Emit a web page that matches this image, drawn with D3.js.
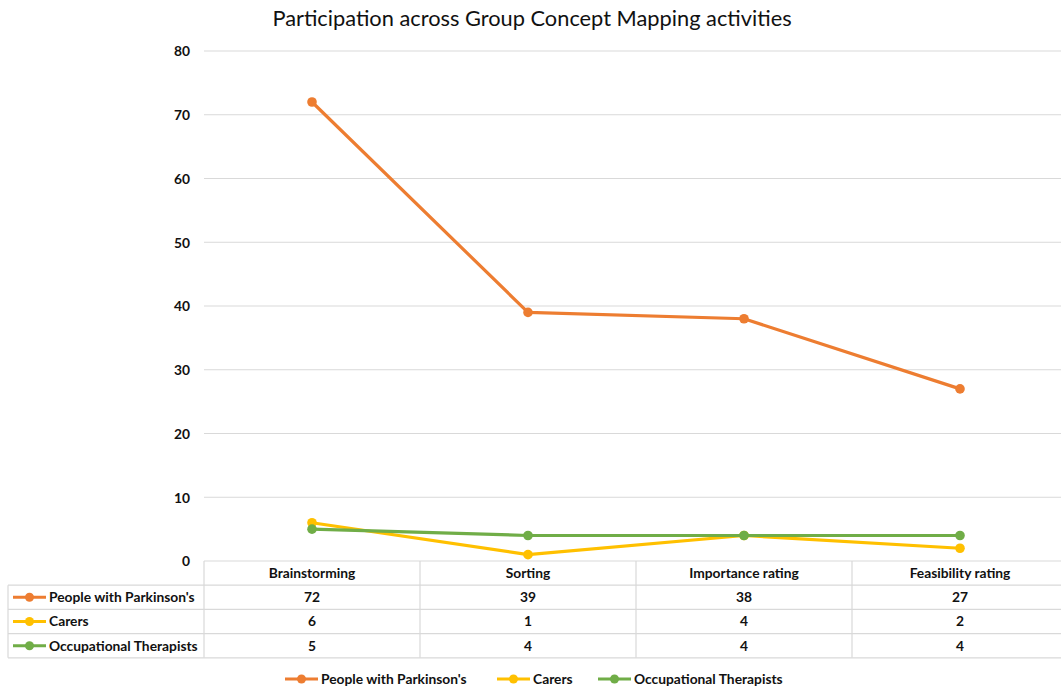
<!DOCTYPE html>
<html><head><meta charset="utf-8">
<script src="https://cdn.jsdelivr.net/npm/d3@7"></script>
<style>body{margin:0;background:#fff;font-family:Lato,"Open Sans",sans-serif;}</style>
</head><body>
<svg id="c" width="1061" height="690"></svg>
<script>
const categories = ["Brainstorming","Sorting","Importance rating","Feasibility rating"];
const seriesNames = ["People with Parkinson's","Carers","Occupational Therapists"];
const parkinsons = [72,39,38,27];
const carers = [6,1,4,2];
const ots = [5,4,4,4];
const yTicks = [0,10,20,30,40,50,60,70,80];
const colors = ["#ED7D31","#FFC000","#70AD47"];
const seriesValues = [parkinsons, carers, ots];

const svg = d3.select("#c");
const plotLeft = 204, bandW = 216, plotTop = 51, plotBottom = 561;
const fs = 13.8;
const x = d3.scaleBand().domain(categories).range([plotLeft, plotLeft + bandW*categories.length]).padding(0);
const y = d3.scaleLinear().domain([0,80]).range([plotBottom, plotTop]);

svg.append("text").attr("x",532).attr("y",26).attr("text-anchor","middle")
  .attr("font-size",21.8).attr("fill","#111").text("Participation across Group Concept Mapping activities");

svg.append("g").selectAll("line").data(yTicks.filter(d=>d>0)).join("line")
  .attr("x1",plotLeft).attr("x2",1061).attr("y1",d=>y(d)).attr("y2",d=>y(d))
  .attr("stroke","#d9d9d9").attr("stroke-width",1);

const yAxis = d3.axisLeft(y).tickValues(yTicks).tickSize(0).tickPadding(0);
const ya = svg.append("g").attr("transform",`translate(190,0)`).call(yAxis);
ya.select(".domain").remove();
ya.selectAll("text").attr("font-size",fs).attr("font-weight","bold").attr("fill","#111").attr("font-family","Lato,sans-serif").attr("dy","0.35em");

const rowH = 24.2;
const tTop = plotBottom, tLeft = 8;
const g = svg.append("g").attr("stroke","#d9d9d9").attr("stroke-width",1.2).attr("fill","none");
g.append("line").attr("x1",plotLeft).attr("x2",1061).attr("y1",tTop).attr("y2",tTop);
for(let i=1;i<=4;i++){
  g.append("line").attr("x1",tLeft).attr("x2",1061).attr("y1",tTop+i*rowH).attr("y2",tTop+i*rowH);
}
g.append("line").attr("x1",tLeft).attr("x2",tLeft).attr("y1",tTop+rowH).attr("y2",tTop+4*rowH);
categories.forEach(c=>{
  g.append("line").attr("x1",x(c)).attr("x2",x(c)).attr("y1",tTop).attr("y2",tTop+4*rowH);
});
svg.append("g").selectAll("text").data(categories).join("text")
  .attr("x",d=>x(d)+x.bandwidth()/2).attr("y",tTop+rowH/2).attr("dy","0.35em")
  .attr("text-anchor","middle").attr("font-size",fs).attr("font-weight","bold").attr("fill","#111").text(d=>d);
seriesNames.forEach((name,i)=>{
  const cy = tTop + rowH*(i+1) + rowH/2;
  svg.append("line").attr("x1",13).attr("x2",46).attr("y1",cy).attr("y2",cy).attr("stroke",colors[i]).attr("stroke-width",3);
  svg.append("circle").attr("cx",29.5).attr("cy",cy).attr("r",4.5).attr("fill",colors[i]);
  svg.append("text").attr("x",49).attr("y",cy).attr("dy","0.35em").attr("font-size",fs).attr("font-weight","bold").attr("fill","#111").text(name);
  svg.append("g").selectAll("text").data(seriesValues[i]).join("text")
    .attr("x",(d,j)=>x(categories[j])+x.bandwidth()/2).attr("y",cy).attr("dy","0.35em")
    .attr("text-anchor","middle").attr("font-size",fs).attr("font-weight","bold").attr("fill","#111").text(d=>d);
});

const line = d3.line().x((d,j)=>x(categories[j])+x.bandwidth()/2).y(d=>y(d));
seriesValues.forEach((vals,i)=>{
  svg.append("path").datum(vals).attr("d",line).attr("fill","none").attr("stroke",colors[i]).attr("stroke-width",3.2).attr("stroke-linejoin","round");
  svg.append("g").selectAll("circle").data(vals).join("circle")
    .attr("cx",(d,j)=>x(categories[j])+x.bandwidth()/2).attr("cy",d=>y(d)).attr("r",4.8).attr("fill",colors[i]);
});

const legX = [285, 497, 598];
seriesNames.forEach((name,i)=>{
  const ly = 679, lx = legX[i];
  svg.append("line").attr("x1",lx).attr("x2",lx+33).attr("y1",ly).attr("y2",ly).attr("stroke",colors[i]).attr("stroke-width",3);
  svg.append("circle").attr("cx",lx+16.5).attr("cy",ly).attr("r",4.5).attr("fill",colors[i]);
  svg.append("text").attr("x",lx+36).attr("y",ly).attr("dy","0.35em").attr("font-size",fs).attr("font-weight","bold").attr("fill","#111").text(name);
});
</script>
</body></html>
